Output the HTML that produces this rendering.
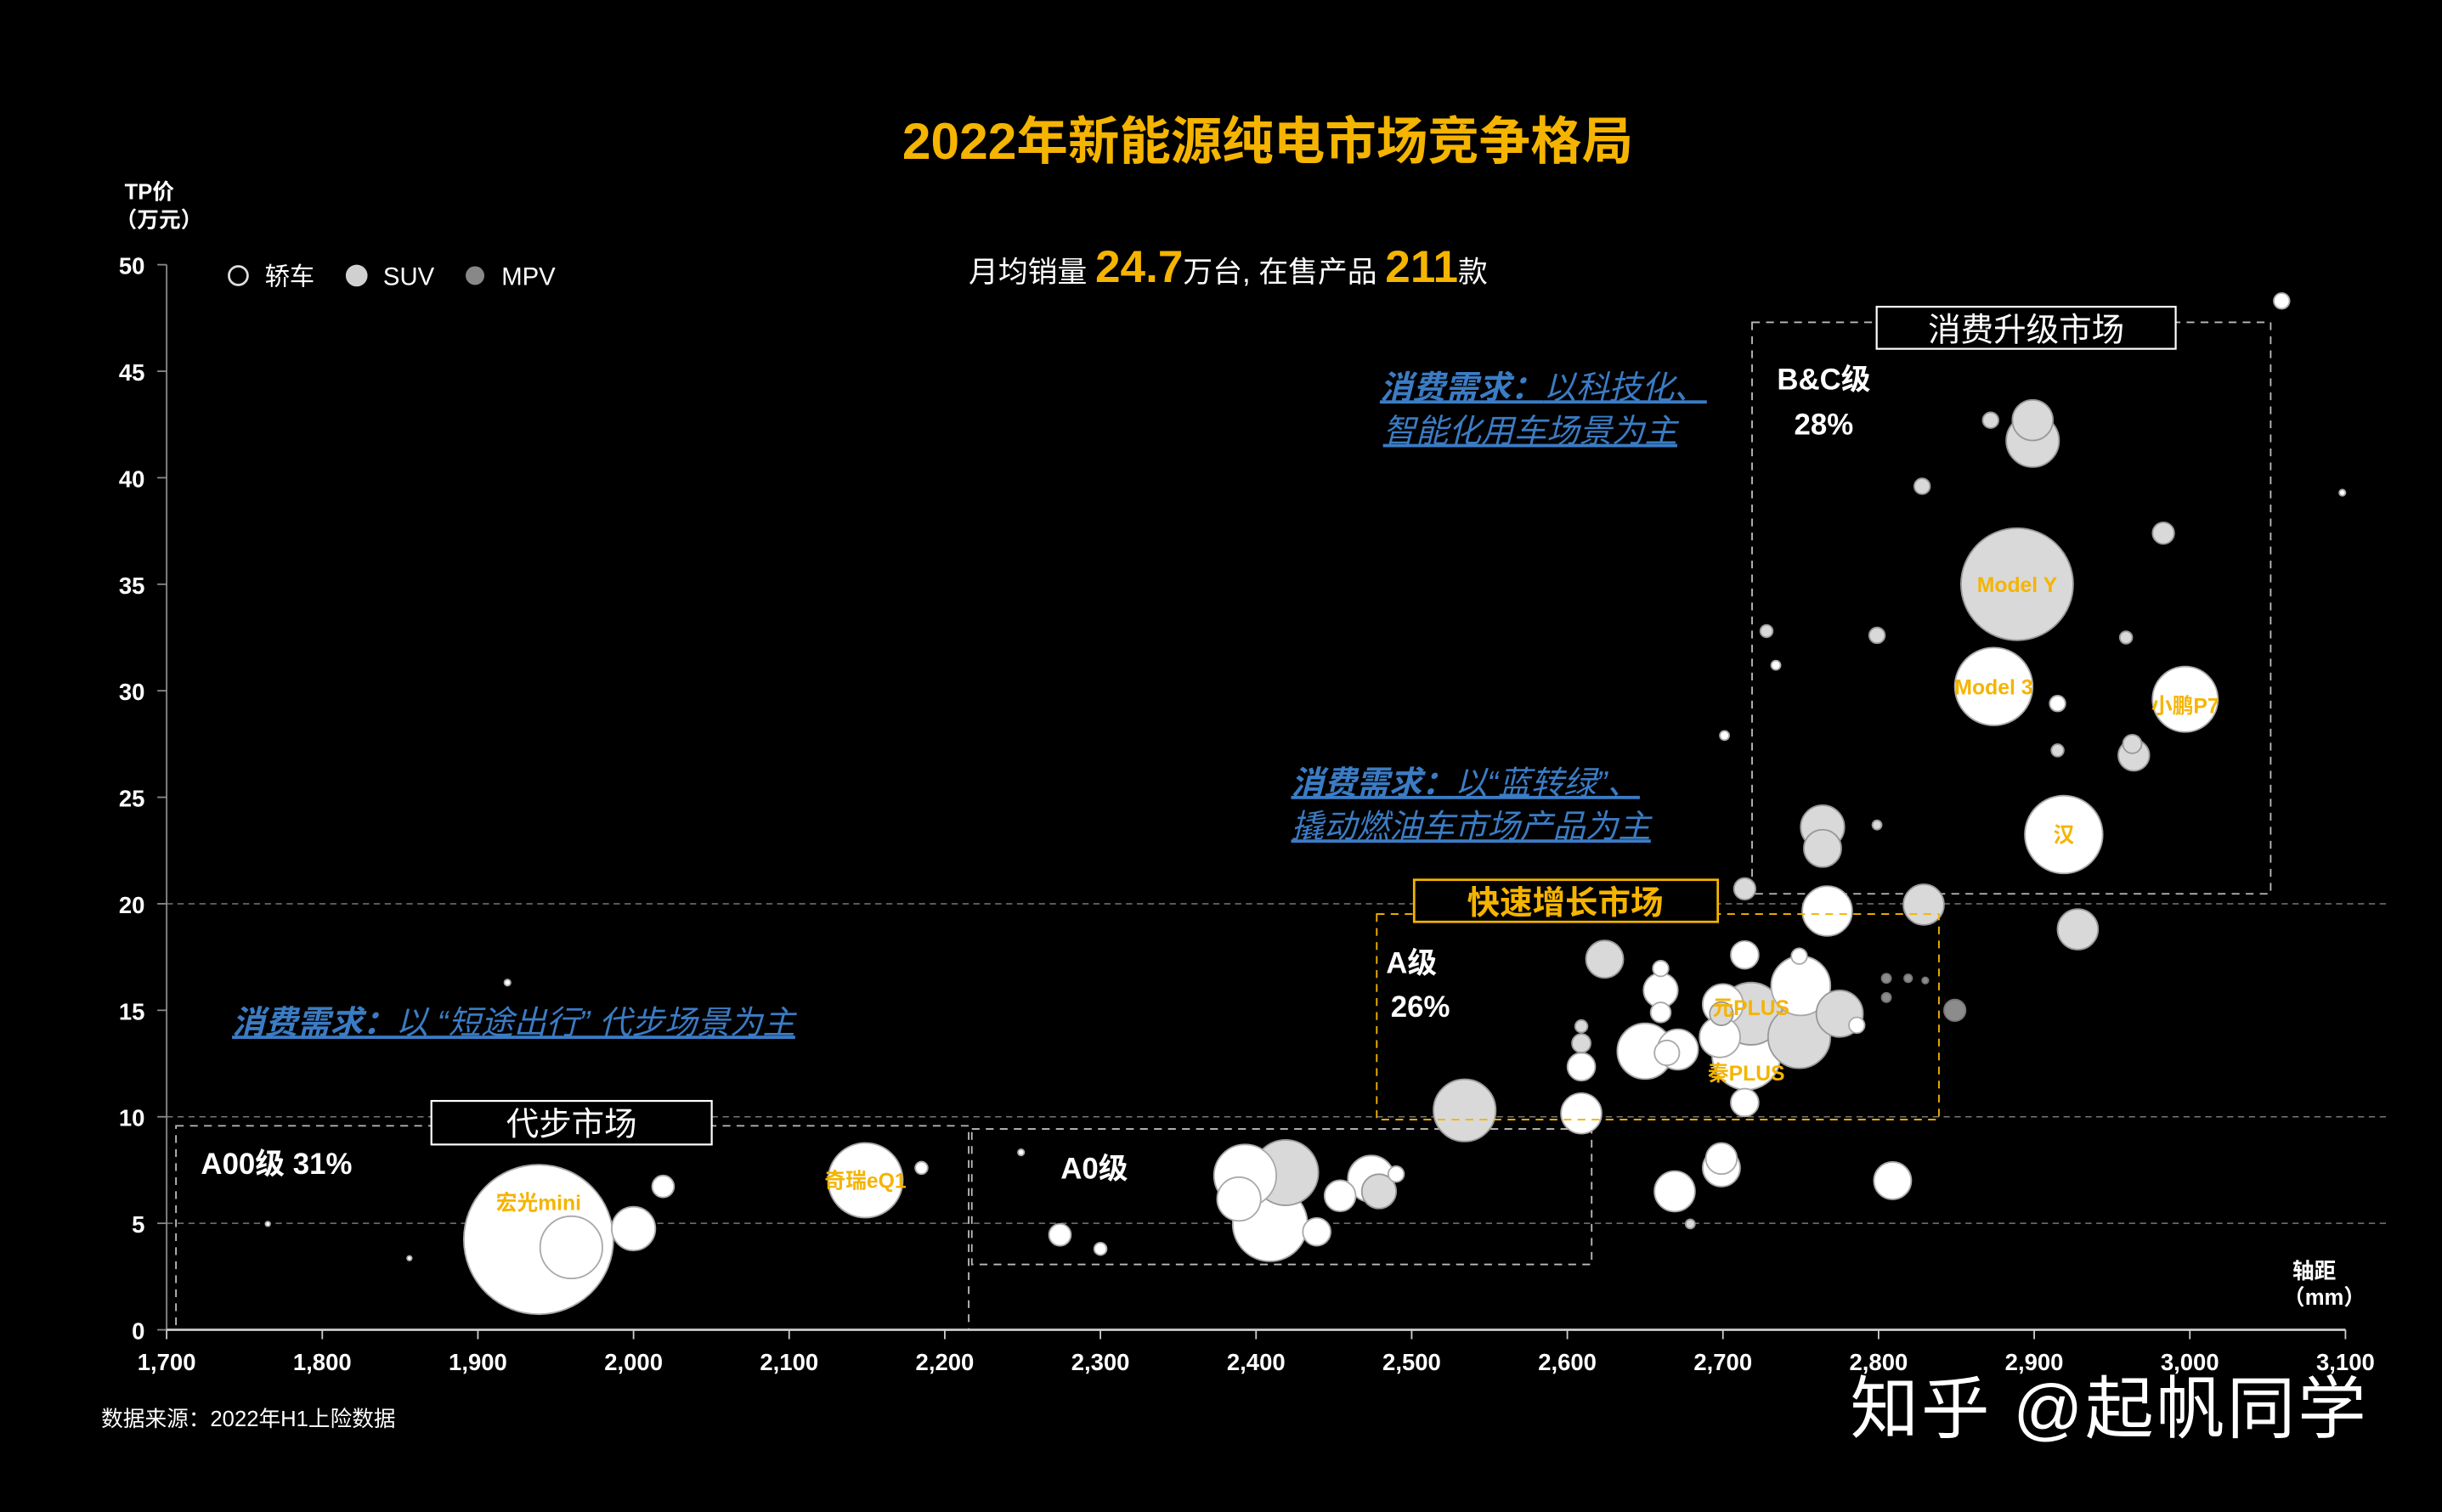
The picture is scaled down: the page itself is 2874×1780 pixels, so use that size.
<!DOCTYPE html>
<html><head><meta charset="utf-8"><style>
html,body{margin:0;padding:0;background:#000;}
svg{display:block;}
text{font-family:"Liberation Sans","Noto Sans CJK SC",sans-serif;}
</style></head><body>
<svg id="chart" width="2874" height="1780" viewBox="0 0 1568 971" preserveAspectRatio="none" xmlns="http://www.w3.org/2000/svg">
<rect width="1568" height="971" fill="#000"/>
<text x="814" y="102" text-anchor="middle" font-size="33" font-weight="bold" fill="#F5B400">2022年新能源纯电市场竞争格局</text>
<text x="622" y="181" font-size="19" fill="#fff">月均销量 <tspan font-size="29" font-weight="bold" fill="#F5B400">24.7</tspan>万台, 在售产品 <tspan font-size="29" font-weight="bold" fill="#F5B400">211</tspan>款</text>
<text font-size="14" font-weight="bold" fill="#fff"><tspan x="80" y="128">TP价</tspan><tspan x="74" y="146">（万元）</tspan></text>
<text font-size="14" font-weight="bold" fill="#fff"><tspan x="1472" y="821">轴距</tspan><tspan x="1466" y="838">（mm）</tspan></text>
<g font-size="16" fill="#fff">
<circle cx="153" cy="177" r="6" fill="#000" stroke="#ddd" stroke-width="1.5"/><text x="170" y="183">轿车</text>
<circle cx="229" cy="177" r="7" fill="#d0d0d0"/><text x="246" y="183">SUV</text>
<circle cx="305" cy="177" r="6" fill="#888"/><text x="322" y="183">MPV</text>
</g>
<g id="grid"></g>
<g id="zones" fill="none">
<rect x="113" y="723" width="509" height="131" stroke="#bbb" stroke-dasharray="5,4"/>
<rect x="624" y="725" width="398" height="87" stroke="#bbb" stroke-dasharray="5,4"/>
<rect x="1125" y="207" width="333" height="367" stroke="#bbb" stroke-dasharray="5,4"/>
</g>
<g id="axes"></g>
<g id="bubbles"></g>
<rect x="884" y="587" width="361" height="132" fill="none" stroke="#F5B400" stroke-dasharray="5,4"/>
<g>
<rect x="277" y="707" width="180" height="28" fill="#000" stroke="#fff" stroke-width="1.2"/>
<text x="367" y="729" text-anchor="middle" font-size="21" fill="#fff">代步市场</text></g>
<g>
<rect x="908" y="565" width="195" height="27" fill="#000" stroke="#F5B400" stroke-width="1.5"/>
<text x="1005" y="587" text-anchor="middle" font-size="21" font-weight="bold" fill="#F5B400">快速增长市场</text></g>
<g>
<rect x="1205" y="197" width="192" height="27" fill="#000" stroke="#fff" stroke-width="1.2"/>
<text x="1301" y="219" text-anchor="middle" font-size="21" fill="#fff">消费升级市场</text></g>
<g font-weight="bold" fill="#fff" font-size="19">
<text x="129" y="754">A00级  31%</text>
<text x="681" y="757">A0级</text>
<text x="890" y="625">A级</text>
<text x="893" y="653">26%</text>
<text x="1141" y="250">B&amp;C级</text>
<text x="1152" y="279">28%</text>
</g>
<g fill="#3B7CC4" font-size="21" font-style="italic" text-decoration="underline">
<text x="886" y="256"><tspan font-weight="bold">消费需求：</tspan>以科技化、</text>
<text x="888" y="284">智能化用车场景为主</text>
<text x="829" y="510"><tspan font-weight="bold">消费需求：</tspan>以“蓝转绿”、</text>
<text x="829" y="538">撬动燃油车市场产品为主</text>
<text x="149" y="664"><tspan font-weight="bold">消费需求：</tspan>以 “短途出行” 代步场景为主</text>
</g>
<text x="65" y="916" font-size="14" fill="#fff">数据来源：2022年H1上险数据</text>
<text x="1188" y="920" font-size="44" letter-spacing="1.5" fill="#fff">知乎 @起帆同学</text>
</svg>
<script>
const xTicks=[1700,1800,1900,2000,2100,2200,2300,2400,2500,2600,2700,2800,2900,3000,3100];
const yTicks=[0,5,10,15,20,25,30,35,40,45,50];
const guideLevels=[5,10,20];
const wheelbase=[1939,1960,2000,2019,2149,2185,1765,1856,1919,2274,2300,2249,2409,2389,2393,2419,2439,2454,2474,2479,2490,2534,2609,2609,2609,2609,2624,2650,2671,2664,2660,2660,2660,2669,2699,2699,2679,2750,2715,2700,2698,2718,2699,2749,2775,2714,2714,2749,2786,2767,2714,2829,2849,2764,2764,2889,2874,2997,2919,2899,2899,2928,2964,2963,2983,2828,2872,2799,2728,2734,2701,2915,2915,2959,3059,3098,2799,2809,2805,2819,2805,2830];
const price=[4.24,3.87,4.75,6.73,7.02,7.6,4.97,3.36,16.3,4.46,3.8,8.33,4.97,6.14,7.24,7.38,4.6,6.29,7.09,6.5,7.31,10.3,10.16,12.35,13.45,14.25,17.4,13.08,13.16,13.0,15.94,14.9,16.96,6.5,7.6,8.04,4.97,16.15,12.87,15.28,13.74,14.84,14.84,13.74,14.84,17.6,10.67,17.54,14.3,19.66,20.7,19.96,15.0,23.6,22.6,35.0,30.2,29.6,23.25,41.74,42.7,18.8,26.97,27.5,37.4,39.6,42.7,32.6,32.8,31.2,27.9,29.4,27.2,32.5,48.3,39.3,23.7,7.0,16.5,16.5,15.6,16.4];
const sales=[144,25,12.3,3.1,36,1,0.14,0.14,0.25,3.1,1,0.25,36,12.3,25,27.6,5,6.25,14,7.6,1.6,25,10.6,5,2.25,1,9,20,10.6,4,7.6,2.6,1.6,10.6,9,6.25,0.56,22.6,30,10.6,10.6,25,3.5,25,14,5,5,1.6,1.6,16,3,10.6,3,12.3,9,81,39,27.6,39,18,10.6,10.6,6.25,2.25,3,1.6,1.6,1.6,1,0.56,0.56,1.6,1,1,1.6,0.25,0.56,9,0.56,0.4,0.56,0.25];
const vtype=[0,0,0,0,0,0,0,0,0,0,0,0,0,0,0,1,0,0,0,1,0,1,0,0,1,1,1,0,0,0,0,0,0,0,0,0,1,0,0,0,0,1,1,1,1,0,0,0,0,0,1,1,2,1,1,1,0,0,0,1,1,1,1,1,1,1,1,1,1,0,0,0,1,1,0,0,1,0,2,2,2,2];
const labelNames=["宏光mini","奇瑞eQ1","Model Y","Model 3","小鹏P7","汉","元PLUS","秦PLUS"];
const labelIdx=[0,4,55,56,57,58,41,38];
const labelDy=[-24,0,0,0,4,0,-4,11];
const NS="http://www.w3.org/2000/svg";
const X=v=>107+(v-1700)*0.9993;
const Y=v=>854-v*13.68;
const R=s=>4*Math.sqrt(s);
function mk(tag,attrs,parent){const e=document.createElementNS(NS,tag);for(const k in attrs)e.setAttribute(k,attrs[k]);parent.appendChild(e);return e;}
const axes=document.getElementById('axes'),grid=document.getElementById('grid'),bub=document.getElementById('bubbles');
guideLevels.forEach(g=>{
 const l=mk('line',{x1:107,x2:1535,y1:Y(g),y2:Y(g),stroke:'#777','stroke-dasharray':'4,3','stroke-width':0.8},grid);
 
 
});
const ya=mk('line',{x1:107,x2:107,y1:Y(50),y2:Y(0),stroke:'#888'},axes);


const xa=mk('line',{x1:107,x2:X(3100),y1:Y(0),y2:Y(0),stroke:'#ccc','stroke-width':1.5},axes);


yTicks.forEach(t=>{
 mk('line',{x1:101,x2:107,y1:Y(t),y2:Y(t),stroke:'#888'},axes);
 const tx=mk('text',{x:93,y:Y(t)+6,'text-anchor':'end','font-size':15,'font-weight':'bold',fill:'#fff'},axes);
 tx.textContent=t;
 
 
});
xTicks.forEach(t=>{
 mk('line',{x1:X(t),x2:X(t),y1:Y(0),y2:Y(0)+6,stroke:'#ccc'},axes);
 const tx=mk('text',{x:X(t),y:880,'text-anchor':'middle','font-size':15,'font-weight':'bold',fill:'#fff'},axes);
 tx.textContent=t.toLocaleString('en-US');
 
 
});
const fills=['#ffffff','#d9d9d9','#8c8c8c'],strokes=['#aaaaaa','#999999','#777777'];
const order=wheelbase.map((_,i)=>i).sort((a,b)=>sales[b]-sales[a]);
order.forEach(i=>{
 const c=mk('circle',{cx:X(wheelbase[i]),cy:Y(price[i]),r:R(sales[i]),fill:fills[vtype[i]],stroke:strokes[vtype[i]],'stroke-width':1},bub);
 
 
});
labelIdx.forEach((idx,k)=>{
 const t=mk('text',{x:X(wheelbase[idx]),y:Y(price[idx])+5+labelDy[k],'text-anchor':'middle','font-size':13.5,'font-weight':'bold',fill:'#F5B400'},bub);
 t.textContent=labelNames[k];
 
 
});
</script>
</body></html>
